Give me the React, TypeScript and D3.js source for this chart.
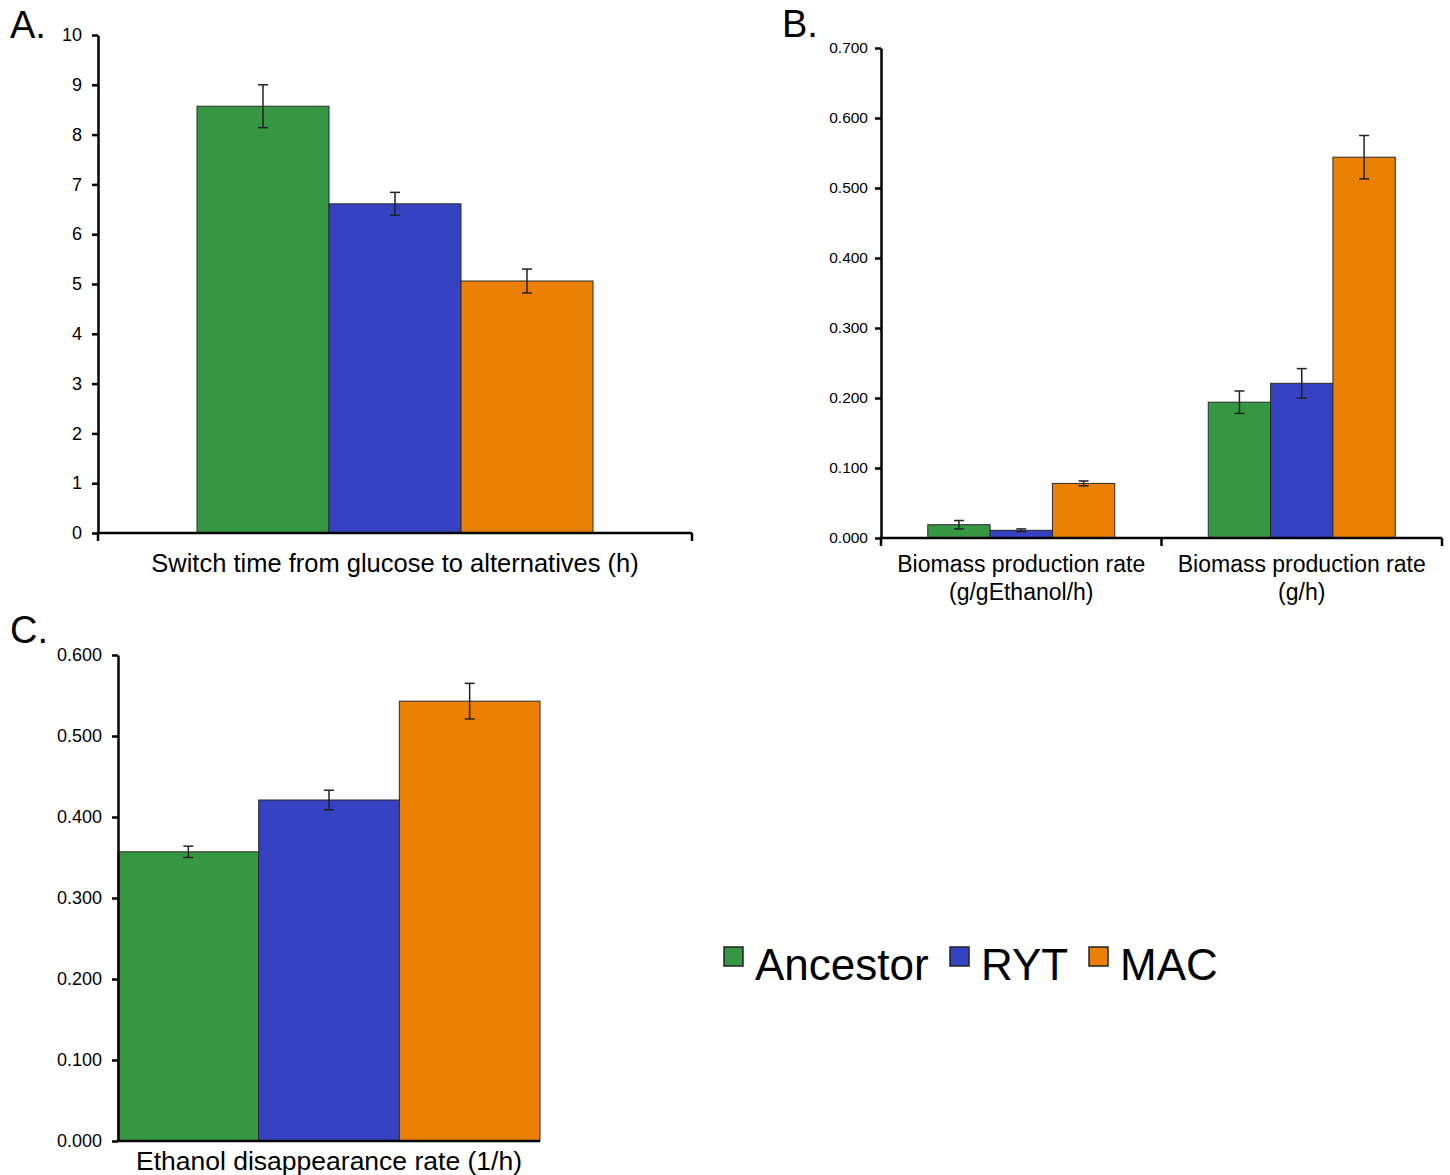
import { useEffect, useRef } from 'react'
import * as d3 from 'd3'

// strains shown in every panel
const series = ['Ancestor', 'RYT', 'MAC']
const seriesColors = ['#359742', '#3543c3', '#eb8004']

// A. switch time (h)
const switchCats = ['Switch time from glucose to alternatives (h)']
const switchTime = [[8.57, 6.61, 5.06]]
const switchErr = [[0.43, 0.23, 0.24]]
const switchTicks = [0, 1, 2, 3, 4, 5, 6, 7, 8, 9, 10]

// B. biomass production
const biomassCats = ['Biomass production rate\n(g/gEthanol/h)', 'Biomass production rate\n(g/h)']
const biomassValues = [
  [0.019, 0.011, 0.078],
  [0.194, 0.221, 0.544],
]
const biomassErr = [
  [0.006, 0.002, 0.0035],
  [0.016, 0.021, 0.031],
]
const biomassTicks = [0, 0.1, 0.2, 0.3, 0.4, 0.5, 0.6, 0.7]

// C. ethanol disappearance
const ethanolCats = ['Ethanol disappearance rate (1/h)']
const ethanolValues = [[0.357, 0.421, 0.543]]
const ethanolErr = [[0.007, 0.012, 0.022]]
const ethanolTicks = [0, 0.1, 0.2, 0.3, 0.4, 0.5, 0.6]

const FONT = "'Liberation Sans', Arial, Helvetica, sans-serif"

const App = () => {
  const svgRef = useRef()

  useEffect(() => {
    const svg = d3.select(svgRef.current)
    svg.selectAll('*').remove()

    const panels = [
      {
        letter: 'A.', lx: 10, ly: 38,
        x0: 98, x1: 692, yTop: 35, yBottom: 533,
        domain: [0, 10], ticks: switchTicks, fmt: d3.format('d'), tickFont: 18, tickPad: 10,
        cats: switchCats, values: switchTime, errs: switchErr,
        outer: 0.75, catTicks: true, labelFont: 25.5, labelY: 572, lineGap: 28,
      },
      {
        letter: 'B.', lx: 782, ly: 37,
        x0: 881, x1: 1442, yTop: 48, yBottom: 538,
        domain: [0, 0.7], ticks: biomassTicks, fmt: d3.format('.3f'), tickFont: 15.5, tickPad: 7,
        cats: biomassCats, values: biomassValues, errs: biomassErr,
        outer: 0.75, catTicks: true, labelFont: 23, labelY: 572, lineGap: 28,
      },
      {
        letter: 'C.', lx: 10, ly: 643,
        x0: 118, x1: 540, yTop: 655, yBottom: 1141,
        domain: [0, 0.6], ticks: ethanolTicks, fmt: d3.format('.3f'), tickFont: 18, tickPad: 10,
        cats: ethanolCats, values: ethanolValues, errs: ethanolErr,
        outer: 0, catTicks: false, labelFont: 26.5, labelY: 1170, lineGap: 28,
      },
    ]

    panels.forEach((p) => {
      const g = svg.append('g')

      const y = d3.scaleLinear().domain(p.domain).range([p.yBottom, p.yTop])
      const x = d3.scaleBand().domain(p.cats).range([p.x0, p.x1]).padding(0)

      // panel letter
      g.append('text')
        .attr('x', p.lx)
        .attr('y', p.ly)
        .attr('font-size', 38)
        .attr('font-family', FONT)
        .text(p.letter)

      // bars + error bars
      p.cats.forEach((cat, ci) => {
        const inner = d3
          .scaleBand()
          .domain(series)
          .range([x(cat), x(cat) + x.bandwidth()])
          .paddingInner(0)
          .paddingOuter(p.outer)

        series.forEach((s, si) => {
          const v = p.values[ci][si]
          const e = p.errs[ci][si]
          g.append('rect')
            .attr('x', inner(s))
            .attr('y', y(v))
            .attr('width', inner.bandwidth())
            .attr('height', y(0) - y(v))
            .attr('fill', seriesColors[si])
            .attr('stroke', '#2a2a2a')
            .attr('stroke-width', 1)

          const cx = inner(s) + inner.bandwidth() / 2
          const eb = g.append('g').attr('stroke', '#222').attr('stroke-width', 1.5)
          eb.append('line').attr('x1', cx).attr('x2', cx).attr('y1', y(v + e)).attr('y2', y(v - e))
          eb.append('line').attr('x1', cx - 5).attr('x2', cx + 5).attr('y1', y(v + e)).attr('y2', y(v + e))
          eb.append('line').attr('x1', cx - 5).attr('x2', cx + 5).attr('y1', y(v - e)).attr('y2', y(v - e))
        })

        // category label
        const lines = cat.split('\n')
        const t = g.append('text')
          .attr('x', x(cat) + x.bandwidth() / 2)
          .attr('y', p.labelY)
          .attr('text-anchor', 'middle')
          .attr('font-size', p.labelFont)
          .attr('font-family', FONT)
        lines.forEach((ln, li) => {
          t.append('tspan')
            .attr('x', x(cat) + x.bandwidth() / 2)
            .attr('dy', li === 0 ? 0 : p.lineGap)
            .text(ln)
        })
      })

      // y axis
      const yAxis = g.append('g')
        .attr('transform', `translate(${p.x0},0)`)
        .call(
          d3.axisLeft(y)
            .tickValues(p.ticks)
            .tickFormat(p.fmt)
            .tickSize(6)
            .tickSizeOuter(0)
            .tickPadding(p.tickPad)
        )
      yAxis.select('.domain').attr('stroke', '#000').attr('stroke-width', 2.5)
      yAxis.selectAll('.tick line').attr('stroke', '#000').attr('stroke-width', 2.5)
      yAxis.selectAll('.tick text')
        .attr('font-size', p.tickFont)
        .attr('font-family', FONT)
        .attr('fill', '#000')

      // x axis
      g.append('line')
        .attr('x1', p.x0 - 1.25)
        .attr('x2', p.x1)
        .attr('y1', y(0))
        .attr('y2', y(0))
        .attr('stroke', '#000')
        .attr('stroke-width', 2.5)

      if (p.catTicks) {
        const edges = p.cats.map((c) => x(c)).concat([p.x1])
        g.selectAll('.cat-tick')
          .data(edges)
          .enter()
          .append('line')
          .attr('x1', (d) => d)
          .attr('x2', (d) => d)
          .attr('y1', y(0))
          .attr('y2', y(0) + 8)
          .attr('stroke', '#000')
          .attr('stroke-width', 2.5)
      }
    })

    // legend
    const legendX = [724, 950, 1089]
    const legend = svg.append('g')
    series.forEach((s, i) => {
      legend.append('rect')
        .attr('x', legendX[i])
        .attr('y', 947)
        .attr('width', 19)
        .attr('height', 19)
        .attr('fill', seriesColors[i])
        .attr('stroke', '#222')
        .attr('stroke-width', 1.5)
      legend.append('text')
        .attr('x', legendX[i] + 31)
        .attr('y', 980)
        .attr('font-size', 44)
        .attr('font-family', FONT)
        .text(s)
    })
  }, [])

  return (
    <svg
      ref={svgRef}
      width='1450'
      height='1175'
      style={{ position: 'absolute', left: 0, top: 0, background: '#fff' }}
    />
  )
}

export default App
